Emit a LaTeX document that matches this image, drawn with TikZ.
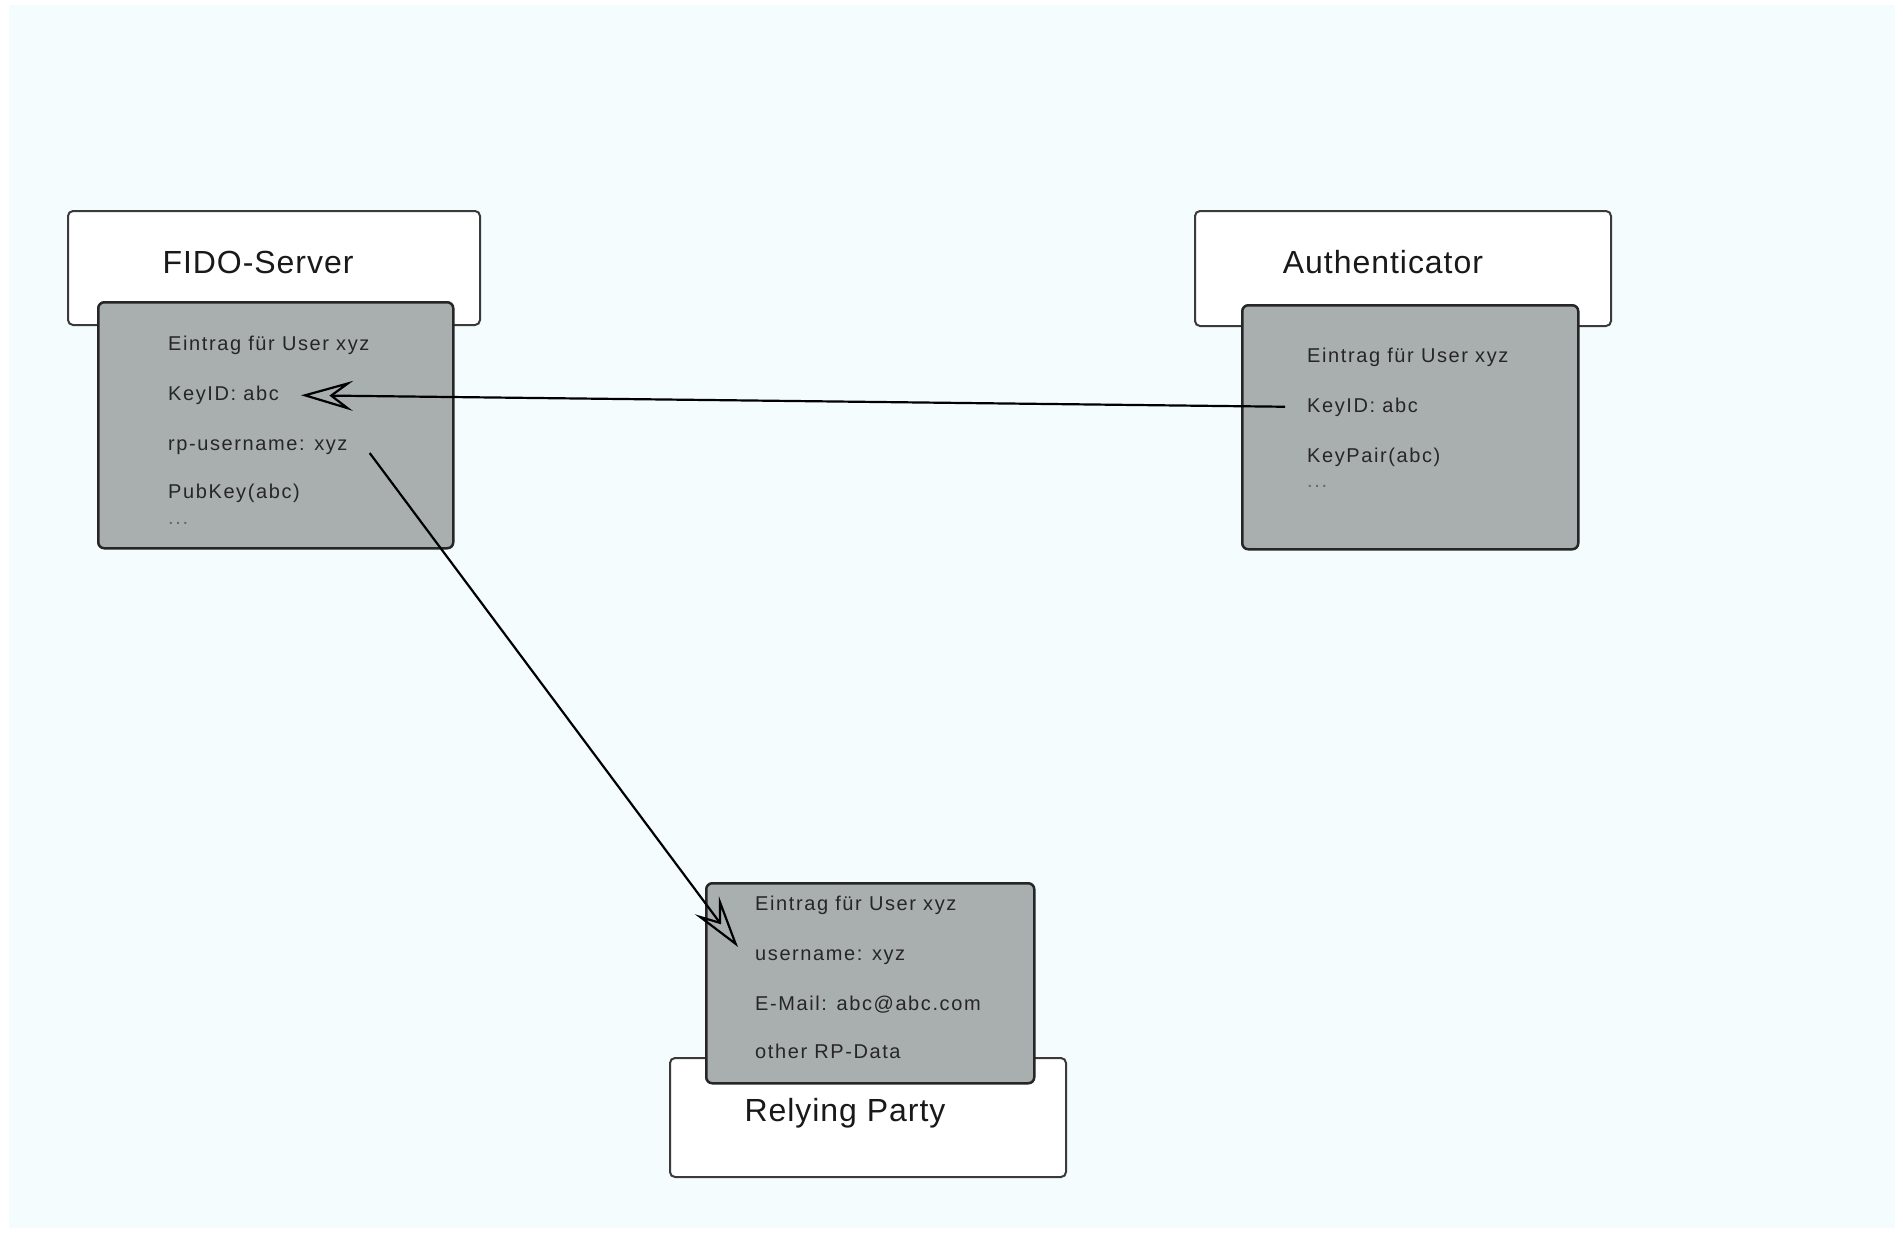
\documentclass[tikz,border=0pt]{standalone}
\usepackage{fontspec}
\setmainfont{Liberation Sans}
\newfontfamily\titlefont[LetterSpace=3]{Liberation Sans}
\newfontfamily\entryfont[LetterSpace=8]{Liberation Sans}
\usetikzlibrary{arrows.meta}
\definecolor{bgcyan}{HTML}{F4FCFE}
\definecolor{entrygray}{HTML}{A9AFAF}
\definecolor{boxline}{HTML}{3A3A3A}
\begin{document}
\begin{tikzpicture}[x=1pt,y=-1pt,
    party/.style={draw=boxline,fill=white,line width=2pt,rounded corners=5pt,anchor=north west},
    entrybox/.style={draw=black!85,fill=entrygray,line width=2.5pt,rounded corners=6pt,anchor=north west},
    title/.style={font=\titlefont\fontsize{32}{38}\selectfont,text=black!90},
    entry/.style={anchor=west,inner sep=0pt,text height=15pt,text depth=4pt,font=\entryfont\fontsize{20}{24}\selectfont,text=black!85},
    link/.style={line width=2.2pt,-{Stealth[open,length=52pt,width=30pt,inset=20pt]}}]
        %% Background
        \useasboundingbox (0,0) rectangle (1903,1232);
        \fill[white] (0,0) rectangle (1903,1232);
        \fill[bgcyan] (9,5) rectangle (1895,1228);
        %% FIDO-Server
        \node[party,minimum width=412pt,minimum height=114pt] (fido) at (67,210) {};
        \node[title] (fidoname) at (258,262) {FIDO-Server};
        \node[entrybox,minimum width=355pt,minimum height=246pt] (fidoentry) at (97,301) {};
        \node[entry] (fhead) at (168,345) {Eintrag für User xyz};
        \node[entry] (fkey) at (168,395) {KeyID: abc};
        \node[entry] (fuser) at (168,445) {rp-username: xyz};
        \node[entry] (fpub) at (168,493) {PubKey(abc)};
        \node[entry,text=black!60] (fmore) at (168,519) {...};
        %% Authenticator
        \node[party,minimum width=416pt,minimum height=115pt] (auth) at (1194,210) {};
        \node[title] (authname) at (1383,262) {Authenticator};
        \node[entrybox,minimum width=336pt,minimum height=244pt] (authentry) at (1241,304) {};
        \node[entry] (ahead) at (1307,357) {Eintrag für User xyz};
        \node[entry] (akey) at (1307,407) {KeyID: abc};
        \node[entry] (apair) at (1307,457) {KeyPair(abc)};
        \node[entry,text=black!60] (amore) at (1307,482) {...};
        %% Relying Party
        \node[party,minimum width=396pt,minimum height=119pt] (rp) at (669,1057) {};
        \node[title] (rpname) at (845,1113) {Relying Party};
        \node[entrybox,minimum width=328pt,minimum height=200pt] (rpentry) at (705,882) {};
        \node[entry] (rhead) at (755,905) {Eintrag für User xyz};
        \node[entry] (ruser) at (755,955) {username: xyz};
        \node[entry] (rmail) at (755,1005) {E-Mail: abc@abc.com};
        \node[entry] (rother) at (755,1053) {other RP-Data};
        %% Links
        \draw[link,shorten <=22pt,shorten >=22pt] (akey.west) -- (fkey.east);
        \draw[link] ([xshift=22pt,yshift=-8pt]fuser.east) -- ([xshift=-17pt,yshift=8pt]ruser.west);
\end{tikzpicture}
\end{document}
